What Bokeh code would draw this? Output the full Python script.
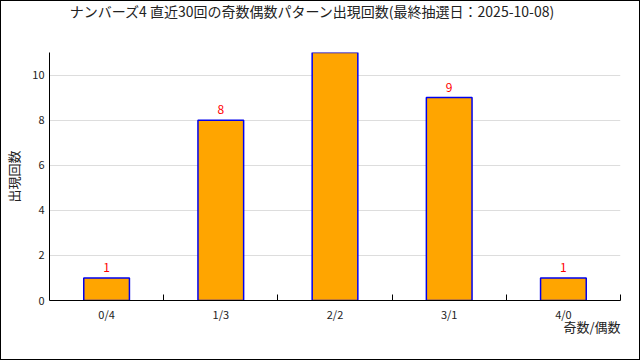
from bokeh.plotting import figure
from bokeh.models import FixedTicker, ColumnDataSource, Range1d, Div, Title
from bokeh.layouts import column
from bokeh.core.properties import value
from bokeh.embed import file_html
from bokeh.resources import INLINE

title_text = "ナンバーズ4 直近30回の奇数偶数パターン出現回数(最終抽選日：2025-10-08)"
x_title = "奇数/偶数"
y_title = "出現回数"
categories = ["0/4", "1/3", "2/2", "3/1", "4/0"]
counts = [1, 8, 11, 9, 1]
y_ticks = [0, 2, 4, 6, 8, 10]

FONT = "Noto Sans CJK JP"

xs = [i + 0.5 for i in range(len(categories))]
src = ColumnDataSource(dict(x=xs, top=counts, label=[str(c) for c in counts]))

head = Div(text=f'<div style="padding-right:16px;text-align:center">{title_text}</div>',
           width=638, height=22, margin=0,
           styles={"text-align": "center", "font-family": FONT, "font-size": "14px",
                   "line-height": "20px", "color": "#222222", "width": "638px",
                   "background": "white"})

p = figure(width=638, height=336, output_backend="svg", toolbar_location=None,
           x_range=Range1d(0, len(categories)), y_range=Range1d(0, 11),
           min_border_left=39, min_border_right=19, min_border_top=29, min_border_bottom=59,
           margin=0)
p.outline_line_color = None
p.background_fill_color = "white"
p.border_fill_color = "white"

p.vbar(x="x", top="top", width=0.4, bottom=0, source=src,
       fill_color="#FFA500", line_color="#0000EE", line_width=1.5)
p.text(x="x", y="top", text="label", source=src, text_align="center",
       text_baseline="bottom", y_offset=-6, text_color="#FF0000",
       text_font=value(FONT), text_font_size="12px")

p.xaxis.ticker = FixedTicker(ticks=xs, minor_ticks=list(range(1, len(categories) + 1)))
p.xaxis.major_label_overrides = {x: c for x, c in zip(xs, categories)}
p.xaxis.major_tick_in = 0
p.xaxis.major_tick_out = 0
p.xaxis.minor_tick_in = 6
p.xaxis.minor_tick_out = 0
p.xaxis.axis_line_color = "black"
p.xaxis.minor_tick_line_color = "black"
p.xaxis.major_label_text_font = FONT
p.xaxis.major_label_text_font_size = "11px"
p.xaxis.major_label_text_color = "#222222"
p.xaxis.major_label_standoff = 5

xt = Title(text=x_title, align="right", standoff=-20, text_font=FONT,
           text_font_size="13px", text_font_style="normal", text_color="#222222")
p.add_layout(xt, "below")

p.yaxis.ticker = FixedTicker(ticks=y_ticks)
p.yaxis.major_tick_in = 0
p.yaxis.major_tick_out = 0
p.yaxis.minor_tick_line_color = None
p.yaxis.axis_line_color = "black"
p.yaxis.major_label_text_font = FONT
p.yaxis.major_label_text_font_size = "11px"
p.yaxis.major_label_text_color = "#222222"
p.yaxis.major_label_standoff = 5
p.yaxis.axis_label = y_title
p.yaxis.axis_label_text_font = FONT
p.yaxis.axis_label_text_font_size = "13px"
p.yaxis.axis_label_text_font_style = "normal"
p.yaxis.axis_label_text_color = "#222222"
p.yaxis.axis_label_standoff = 6

p.xgrid.grid_line_color = None
p.ygrid.grid_line_color = "#DDDDDD"
p.ygrid.ticker = FixedTicker(ticks=y_ticks[1:])

layout = column(head, p, spacing=0, margin=0,
                styles={"border": "1px solid black", "background": "white"})

open("out.html", "w").write(file_html(layout, INLINE))
